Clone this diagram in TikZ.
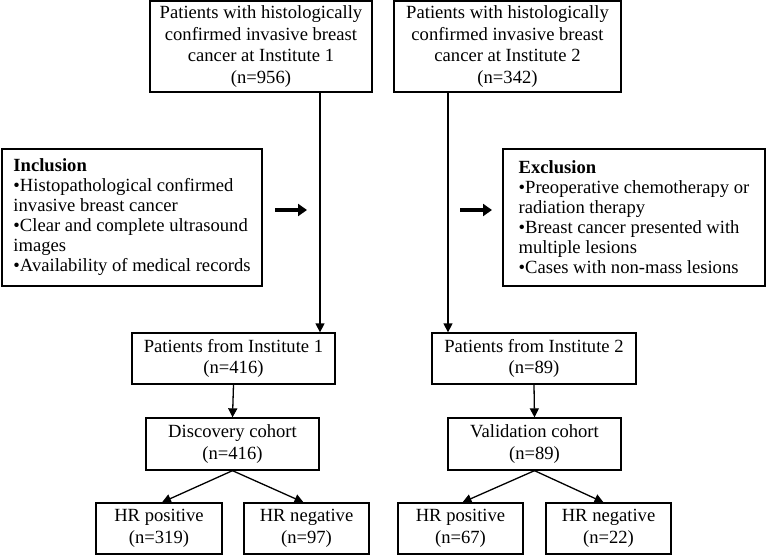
\documentclass[tikz,border=0pt]{standalone}
\usepackage{fontspec}
\setmainfont{Liberation Serif}
\usetikzlibrary{arrows.meta,calc}
\begin{document}
\begin{tikzpicture}[x=1pt,y=-1pt,
  box/.style={draw, line width=1.3pt, align=center, inner sep=0pt, font=\fontsize{18.6}{21.5}\selectfont},
  lbox/.style={box, align=left, font=\fontsize{18.6}{20}\selectfont},
  arr/.style={line width=1.3pt, -{Triangle[length=9pt,width=9pt]}},
  bigarr/.style={line width=4.8pt, -{Triangle[length=9pt,width=12pt]}}]
\useasboundingbox (0,0) rectangle (767,557);
\fill[white] (0,0) rectangle (767,557);

\node[box, minimum width=222pt, minimum height=91pt] (top1) at (261,46.5)
  {Patients with histologically\\confirmed invasive breast\\cancer at Institute 1\\(n=956)};
\node[box, minimum width=227pt, minimum height=91pt] (top2) at (507.5,46.5)
  {Patients with histologically\\confirmed invasive breast\\cancer at Institute 2\\(n=342)};

\node[lbox, minimum width=260pt, minimum height=137pt] (incl) at (132,217.5)
  {\textbf{Inclusion}\\\textbullet Histopathological confirmed\\invasive breast cancer\\\textbullet Clear and complete ultrasound\\images\\\textbullet Availability of medical records};
\node[lbox, minimum width=262pt, minimum height=137pt] (excl) at (634,217.5)
  {\textbf{Exclusion}\\\textbullet Preoperative chemotherapy or\\radiation therapy\\\textbullet Breast cancer presented with\\multiple lesions\\\textbullet Cases with non-mass lesions};

\node[box, minimum width=203pt, minimum height=51pt] (pat1) at (233.5,358.5)
  {Patients from Institute 1\\(n=416)};
\node[box, minimum width=204pt, minimum height=51pt] (pat2) at (534,358.5)
  {Patients from Institute 2\\(n=89)};

\node[box, minimum width=173pt, minimum height=52pt] (disc) at (232.5,444)
  {Discovery cohort\\(n=416)};
\node[box, minimum width=173pt, minimum height=52pt] (val) at (534.5,444)
  {Validation cohort\\(n=89)};

\node[box, minimum width=126pt, minimum height=51pt] (hrp1) at (159,528.5)
  {HR positive\\(n=319)};
\node[box, minimum width=125pt, minimum height=51pt] (hrn1) at (306.5,528.5)
  {HR negative\\(n=97)};
\node[box, minimum width=125pt, minimum height=51pt] (hrp2) at (460.5,528.5)
  {HR positive\\(n=67)};
\node[box, minimum width=125pt, minimum height=51pt] (hrn2) at (608.5,528.5)
  {HR negative\\(n=22)};

\coordinate (l1) at (320,92);
\coordinate (l2) at (448,92);
\draw[arr] (l1) -- (l1 |- pat1.north);
\draw[arr] (l2) -- (l2 |- pat2.north);

\coordinate (ba1s) at (275,210);
\coordinate (ba1e) at (307,210);
\coordinate (ba2s) at (460,210);
\coordinate (ba2e) at (492,210);
\draw[bigarr] (ba1s) -- (ba1e);
\draw[bigarr] (ba2s) -- (ba2e);

\draw[arr] (pat1.south) -- (disc.north);
\draw[arr] (pat2.south) -- (val.north);
\draw[arr] (disc.south) -- ($(hrp1.north)+(3,0)$);
\draw[arr] (disc.south) -- ($(hrn1.north)+(-3,0)$);
\draw[arr] (val.south) -- ($(hrp2.north)+(2,0)$);
\draw[arr] (val.south) -- ($(hrn2.north)+(-5,0)$);
\end{tikzpicture}
\end{document}
